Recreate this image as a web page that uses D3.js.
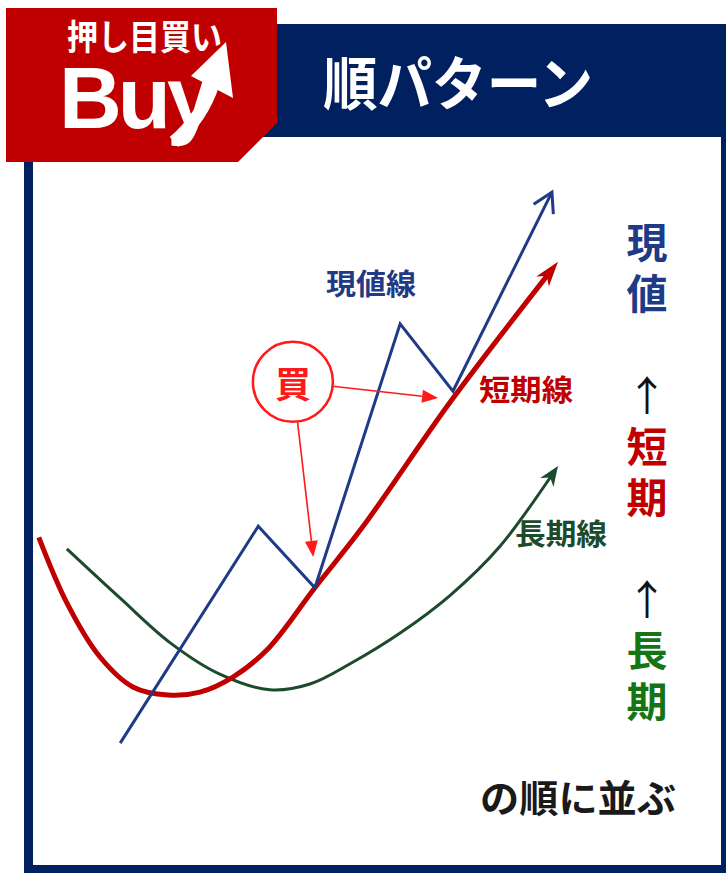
<!DOCTYPE html>
<html><head><meta charset="utf-8">
<script src="https://cdn.jsdelivr.net/npm/d3@7"></script>
<style>
html,body{margin:0;padding:0;background:#fff;}
svg{display:block;}
text{font-family:"Noto Sans CJK JP","Noto Sans",sans-serif;}
</style></head>
<body>
<svg id="c" width="726" height="873"></svg>
<script>
// ---- data (abstract time / price units) ----
const priceX = [16.4, 41.5, 51.8, 67.3, 76.9, 94.9];
const priceY = [2.9, 40.3, 29.7, 75.2, 63.6, 97.9];
const shortX = [1.6, 6.7, 12.7, 18.7, 25.1, 30.9, 36.9, 43.1, 51.8, 60.5, 76.7, 96.0];
const shortY = [38.4, 27.1, 17.8, 12.6, 11.2, 11.7, 14.3, 19.0, 29.7, 40.2, 62.1, 85.9];
const longX  = [6.7, 16.4, 25.5, 34.5, 43.6, 50.9, 58.2, 67.3, 76.4, 85.5, 96.0];
const longY  = [36.4, 27.9, 20.2, 14.8, 12.1, 13.1, 16.6, 21.9, 28.4, 36.9, 50.7];
const buyCircle = [47.8, 65.2];
const buyTargetsX = [74.2, 51.5];
const buyTargetsY = [62.4, 35.0];
const lineLabels = ["現値線", "短期線", "長期線"];
const orderChars = ["現", "値", "　", "↑", "短", "期", "　", "↑", "長", "期"];
const titleText = "順パターン";
const badgeTop = "押し目買い";
const badgeMain = "Buy";
const footer = "の順に並ぶ";
const buyMark = "買";

const NAVY = "#002060", RED = "#c00000", BLUE = "#1f3a86", GREEN_L = "#1b4a2c", GREEN_T = "#157515", BRIGHT = "#ff1a1a";

const svg = d3.select("#c");
const x = d3.scaleLinear().domain([0, 100]).range([30, 580]);
const y = d3.scaleLinear().domain([0, 100]).range([760, 180]);

// ---- frame ----
svg.append("rect").attr("x", 24).attr("y", 24).attr("width", 702).attr("height", 849).attr("fill", NAVY);
svg.append("rect").attr("x", 33).attr("y", 137).attr("width", 688).attr("height", 728).attr("fill", "#fff");

// title
svg.append("text").text(titleText).attr("x", 323).attr("y", 80)
  .attr("dominant-baseline", "central").attr("font-size", 58).attr("font-weight", 700)
  .attr("fill", "#fff").attr("textLength", 270).attr("lengthAdjust", "spacingAndGlyphs");

// red badge
svg.append("path").attr("d", "M6,8H277V123L238,162H6Z").attr("fill", RED);
const badge = svg.append("text").attr("fill", "#fff").attr("font-weight", 700);
badge.append("tspan").text(badgeTop).attr("x", 67).attr("y", 50)
  .attr("font-size", 35).attr("textLength", 155).attr("lengthAdjust", "spacingAndGlyphs");
badge.append("tspan").text(badgeMain).attr("x", 59).attr("y", 128)
  .style("font-family", "'Liberation Sans', Arial, sans-serif")
  .attr("font-size", 87).attr("letter-spacing", -4);
svg.append("path").attr("d", "M174,142 Q202,118 213,84").attr("fill", "none")
  .attr("stroke", "#fff").attr("stroke-width", 13);
svg.append("path").attr("d", "M226,42 L191,76 L233,98 Z").attr("fill", "#fff");

// ---- lines ----
function arrowHead(path, L, W, N, color, open, sw) {
  const node = path.node();
  const tot = node.getTotalLength();
  const tip = node.getPointAtLength(tot);
  const back = node.getPointAtLength(tot - 6);
  let dx = tip.x - back.x, dy = tip.y - back.y;
  const m = Math.hypot(dx, dy); dx /= m; dy /= m;
  const px = -dy, py = dx;
  const b1 = [tip.x - L * dx + W * px, tip.y - L * dy + W * py];
  const b2 = [tip.x - L * dx - W * px, tip.y - L * dy - W * py];
  const nt = [tip.x - (L - N) * dx, tip.y - (L - N) * dy];
  if (open) {
    svg.append("path").attr("d", `M${b1}L${tip.x},${tip.y}L${b2}`).attr("fill", "none")
      .attr("stroke", color).attr("stroke-width", sw).attr("stroke-linejoin", "miter");
  } else {
    path.attr("stroke-dasharray", `${tot - L + N + 1} ${tot}`);
    svg.append("path").attr("d", `M${tip.x},${tip.y}L${b1}L${nt}L${b2}Z`).attr("fill", color);
  }
}

const lineGen = d3.line().x(d => x(d[0])).y(d => y(d[1]));
const curveGen = d3.line().x(d => x(d[0])).y(d => y(d[1])).curve(d3.curveCatmullRom.alpha(0.5));

const longPath = svg.append("path").datum(d3.zip(longX, longY)).attr("d", curveGen)
  .attr("fill", "none").attr("stroke", GREEN_L).attr("stroke-width", 3);
arrowHead(longPath, 20, 8, 6, GREEN_L, false);

const shortPath = svg.append("path").datum(d3.zip(shortX, shortY)).attr("d", curveGen)
  .attr("fill", "none").attr("stroke", RED).attr("stroke-width", 5);
arrowHead(shortPath, 25, 8, 7, RED, false);

const pricePath = svg.append("path").datum(d3.zip(priceX, priceY)).attr("d", lineGen)
  .attr("fill", "none").attr("stroke", BLUE).attr("stroke-width", 3).attr("stroke-linejoin", "miter");
arrowHead(pricePath, 19, 11, 0, BLUE, true, 3);

// ---- buy annotation ----
const cx = x(buyCircle[0]), cy = y(buyCircle[1]), r = 40;
svg.append("circle").attr("cx", cx).attr("cy", cy).attr("r", r).attr("fill", "#fff")
  .attr("stroke", BRIGHT).attr("stroke-width", 2.5);
svg.append("text").text(buyMark).attr("x", cx).attr("y", cy).attr("text-anchor", "middle")
  .attr("dominant-baseline", "central").attr("font-size", 36).attr("font-weight", 700).attr("fill", BRIGHT);
buyTargetsX.forEach((tx, i) => {
  const t = [x(tx), y(buyTargetsY[i])];
  let dx = t[0] - cx, dy = t[1] - cy; const m = Math.hypot(dx, dy); dx /= m; dy /= m;
  const s = [cx + dx * r, cy + dy * r];
  const L = 16, W = 6.5;
  const base = [t[0] - dx * L, t[1] - dy * L];
  svg.append("line").attr("x1", s[0]).attr("y1", s[1]).attr("x2", base[0]).attr("y2", base[1])
    .attr("stroke", BRIGHT).attr("stroke-width", 1.6);
  svg.append("path").attr("d", `M${t}L${base[0] - dy * W},${base[1] + dx * W}L${base[0] + dy * W},${base[1] - dx * W}Z`)
    .attr("fill", BRIGHT);
});

// ---- line labels ----
const lblPos = [[326, 282, BLUE, 90], [479, 388, RED, 94], [515, 532, GREEN_L, 92]];
lineLabels.forEach((t, i) => {
  svg.append("text").text(t).attr("x", lblPos[i][0]).attr("y", lblPos[i][1])
    .attr("dominant-baseline", "central").attr("font-size", 29).attr("font-weight", 700)
    .attr("fill", lblPos[i][2]).attr("textLength", lblPos[i][3]).attr("lengthAdjust", "spacingAndGlyphs");
});

// ---- order column (vertical text) ----
const colC = [BLUE, BLUE, "#fff", "#111", RED, RED, "#fff", "#111", GREEN_T, GREEN_T];
const col = svg.append("text").attr("x", 647).attr("y", 222)
  .style("writing-mode", "vertical-rl").style("text-orientation", "upright")
  .attr("font-size", 41).attr("letter-spacing", 10);
orderChars.forEach((t, i) => {
  col.append("tspan").text(t).attr("fill", colC[i])
    .attr("font-weight", t === "↑" ? 400 : 700);
});

svg.append("text").text(footer).attr("x", 480).attr("y", 795)
  .attr("dominant-baseline", "central").attr("font-size", 38).attr("font-weight", 700)
  .attr("fill", "#1a1a1a").attr("textLength", 196).attr("lengthAdjust", "spacingAndGlyphs");
</script>
</body></html>
